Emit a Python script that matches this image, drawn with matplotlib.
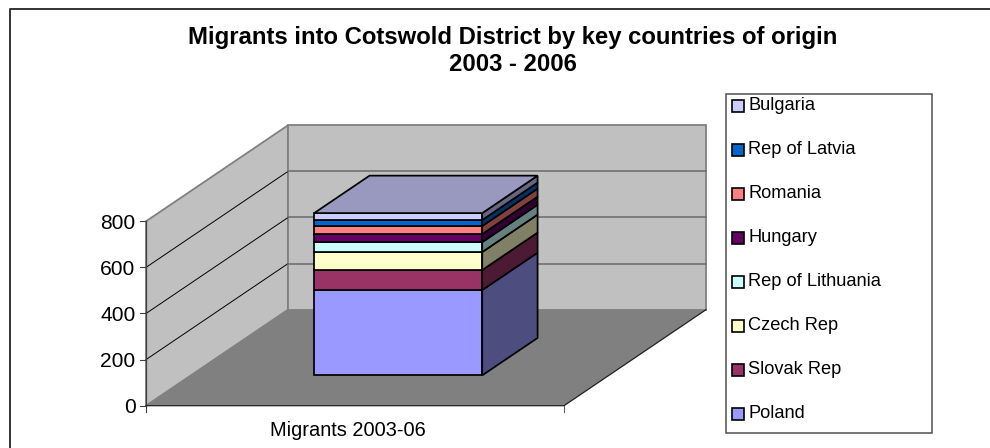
import matplotlib
matplotlib.use("Agg")
import matplotlib.pyplot as plt
from matplotlib.patches import Polygon, Rectangle

plt.rcParams['font.family'] = ['Liberation Sans', 'DejaVu Sans']

# values, bottom of the stack first
countries = ["Poland", "Slovak Rep", "Czech Rep", "Rep of Lithuania", "Hungary", "Romania", "Rep of Latvia", "Bulgaria"]
migrants = [370, 87, 78, 43, 35, 35, 26, 30]
colours = ["#9999FF", "#993366", "#FFFFCC", "#CCFFFF", "#660066", "#FF8080", "#0066CC", "#CCCCFF"]
y_ticks = [0, 200, 400, 600, 800]
category = "Migrants 2003-06"
title = "Migrants into Cotswold District by key countries of origin\n2003 - 2006"

PX = 0.72  # points per pixel at dpi 100


def proj(u, v, val):
    # oblique 3d box -> pixels. u along the front, v into the page
    x = 146 + 418 * u + 142 * v
    y = 405.7 - 96 * v - val * 0.2305
    return (x, y)


def shade(col, f):
    rgb = matplotlib.colors.to_rgb(col)
    return tuple(c * f for c in rgb)


fig = plt.figure(figsize=(9.9, 4.48), dpi=100)
ax = fig.add_axes([0, 0, 1, 1])
ax.set_xlim(0, 990)
ax.set_ylim(448, 0)
ax.axis("off")

# outer chart frame, only top and left show
ax.plot([10, 10, 990], [448, 9.5, 9.5], color="#333333", lw=1.4, zorder=1)

top = y_ticks[-1] * 1.0
# walls + floor
ax.add_patch(Polygon([proj(0, 0, 0), proj(0, 0, top), proj(0, 1, top), proj(0, 1, 0)],
                     facecolor="#C0C0C0", edgecolor="#808080", lw=1.3, zorder=2))
ax.add_patch(Polygon([proj(0, 1, 0), proj(0, 1, top), proj(1, 1, top), proj(1, 1, 0)],
                     facecolor="#C0C0C0", edgecolor="#808080", lw=1.3, zorder=2))
ax.add_patch(Polygon([proj(0, 0, 0), proj(1, 0, 0), proj(1, 1, 0), proj(0, 1, 0)],
                     facecolor="#808080", edgecolor="none", zorder=3))

# grid lines
for t in y_ticks[1:-1]:
    a, b, c = proj(0, 0, t), proj(0, 1, t), proj(1, 1, t)
    ax.plot([a[0], b[0]], [a[1], b[1]], color="black", lw=0.7, zorder=4)
    ax.plot([b[0], c[0]], [b[1], c[1]], color="#707070", lw=1.2, zorder=4)

# axes lines and ticks
a, b = proj(0, 0, 0), proj(0, 0, top)
ax.plot([a[0], b[0]], [a[1], b[1]], color="#404040", lw=0.9, zorder=5)
a, b, c = proj(0, 0, 0), proj(1, 0, 0), proj(1, 1, 0)
ax.plot([a[0], b[0], c[0]], [a[1], b[1], c[1]], color="#202020", lw=0.9, zorder=5)
ax.plot([a[0], a[0]], [a[1], a[1] + 6], color="#404040", lw=0.8, zorder=5)
ax.plot([b[0], b[0]], [b[1], b[1] + 6], color="#606060", lw=0.8, zorder=5)
for t in y_ticks:
    p = proj(0, 0, t)
    ax.plot([p[0] - 6, p[0]], [p[1], p[1]], color="#404040", lw=0.8, zorder=5)
    ax.text(p[0] - 10.5, p[1], str(t), ha="right", va="center_baseline", fontsize=21 * PX, color="black")

# the stacked bar
u0, u1 = 0.295, 0.697
v0, v1 = 0.316, 0.706
edge = dict(edgecolor="black", lw=1.25, joinstyle="miter", zorder=6)
base = 0
for val, col in zip(migrants, colours):
    h = base + val
    ax.add_patch(Polygon([proj(u0, v0, base), proj(u1, v0, base), proj(u1, v0, h), proj(u0, v0, h)],
                         facecolor=col, **edge))
    ax.add_patch(Polygon([proj(u1, v0, base), proj(u1, v1, base), proj(u1, v1, h), proj(u1, v0, h)],
                         facecolor=shade(col, 0.5), **edge))
    base = h
ax.add_patch(Polygon([proj(u0, v0, base), proj(u1, v0, base), proj(u1, v1, base), proj(u0, v1, base)],
                     facecolor=shade(colours[-1], 0.75), **edge))

ax.text(348, 429, category, ha="center", va="center_baseline", fontsize=20 * PX, color="black")
ax.text(513, 51, title, ha="center", va="center", fontsize=23.9 * PX, fontweight="bold", color="black", linespacing=1.2)

# legend, drawn by hand so the boxes sit like the original
ax.add_patch(Rectangle((726, 94), 205.7, 339.3, facecolor="white", edgecolor="#505050", lw=1.1, zorder=2))
for i, (name, col) in enumerate(zip(countries, colours)):
    y = 413.8 - i * 44
    ax.add_patch(Rectangle((731.7, y - 6.2), 12.3, 12.4, facecolor=col, edgecolor="black", lw=1.2, zorder=3))
    ax.text(748, y - 2, name, ha="left", va="center_baseline", fontsize=18.3 * PX, color="black")

fig.savefig("out.png", dpi=100)
